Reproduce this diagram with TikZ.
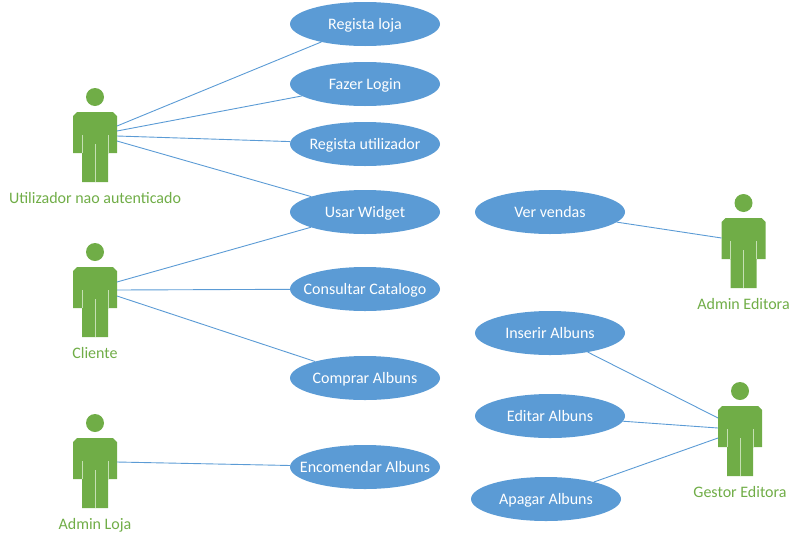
\documentclass[tikz,border=0pt]{standalone}
\usepackage{fontspec}
\setmainfont{Carlito}
\usetikzlibrary{shapes.geometric}
\definecolor{ucBlue}{RGB}{91,155,213}
\definecolor{ucGreen}{RGB}{112,173,71}
\definecolor{ucSlit}{RGB}{197,224,179}
\tikzset{
  usecase/.style={ellipse,fill=ucBlue,minimum width=150pt,minimum height=44pt,inner sep=0pt,outer sep=0pt},
  usecaselabel/.style={text=white,inner sep=0pt,anchor=base,font=\fontsize{16}{18}\selectfont},
  actorbody/.style={minimum width=44pt,minimum height=70pt,inner sep=0pt,outer sep=0pt},
  actorhead/.style={circle,fill=ucGreen,minimum size=18pt,inner sep=0pt},
  actorlabel/.style={text=ucGreen,inner sep=0pt,anchor=base,font=\fontsize{16}{18}\selectfont},
  link/.style={draw=ucBlue,line width=0.9pt}
}
\newcommand{\usecasefig}[4]{%
  \node[usecase] (#1) at (#2,#3) {};
  \node[usecaselabel] (#1label) at (#2,#3+5) {#4};
}
\newcommand{\actorfig}[4]{%
  \node[actorbody] (#1) at (#2,#3) {};
  \node[actorhead] (#1head) at (#2,#3-50) {};
  \fill[ucGreen] (#2-22,#3-31) -- (#2-18,#3-35) -- (#2+18,#3-35) -- (#2+22,#3-31) -- (#2+22,#3+6)
    -- (#2+13,#3+6) -- (#2+13,#3+35) -- (#2-13,#3+35) -- (#2-13,#3+6) -- (#2-22,#3+6) -- cycle;
  \draw[ucSlit,line width=0.8pt] (#2-13,#3-12) -- (#2-13,#3+6) (#2+13,#3-12) -- (#2+13,#3+6) (#2,#3-3) -- (#2,#3+35);
  \node[actorlabel] (#1label) at (#2,#3+56) {#4};
}
\begin{document}
\begin{tikzpicture}[x=1pt,y=-1pt]
  \useasboundingbox (0,0) rectangle (799,541);
  % casos de uso
  \usecasefig{registaloja}{365}{24}{Regista loja}
  \usecasefig{login}{365}{84}{Fazer Login}
  \usecasefig{registauser}{365}{144}{Regista utilizador}
  \usecasefig{widget}{365}{212}{Usar Widget}
  \usecasefig{catalogo}{365}{289}{Consultar Catalogo}
  \usecasefig{comprar}{365}{378}{Comprar Albuns}
  \usecasefig{encomendar}{365}{467}{Encomendar Albuns}
  \usecasefig{vendas}{550}{212}{Ver vendas}
  \usecasefig{inserir}{550}{333}{Inserir Albuns}
  \usecasefig{editar}{550}{416}{Editar Albuns}
  \usecasefig{apagar}{546}{499}{Apagar Albuns}
  % atores
  \actorfig{utilizador}{95}{147}{Utilizador nao autenticado}
  \actorfig{cliente}{95}{302}{Cliente}
  \actorfig{adminloja}{95}{473}{Admin Loja}
  \actorfig{admineditora}{743.5}{253}{Admin Editora}
  \actorfig{gestor}{740}{441}{Gestor Editora}
  % ligacoes
  \draw[link] ([yshift=21pt]utilizador.east) -- (registaloja);
  \draw[link] ([yshift=16pt]utilizador.east) -- (login);
  \draw[link] ([yshift=11pt]utilizador.east) -- (registauser);
  \draw[link] ([yshift=6pt]utilizador.east) -- (widget);
  \draw[link] ([yshift=20pt]cliente.east) -- (widget);
  \draw[link] ([yshift=12pt]cliente.east) -- (catalogo);
  \draw[link] ([yshift=6pt]cliente.east) -- (comprar);
  \draw[link] ([yshift=11pt]adminloja.east) -- (encomendar);
  \draw[link] ([yshift=15pt]admineditora.west) -- (vendas);
  \draw[link] ([yshift=23pt]gestor.west) -- (inserir);
  \draw[link] ([yshift=13pt]gestor.west) -- (editar);
  \draw[link] ([yshift=3pt]gestor.west) -- (apagar);
\end{tikzpicture}
\end{document}
